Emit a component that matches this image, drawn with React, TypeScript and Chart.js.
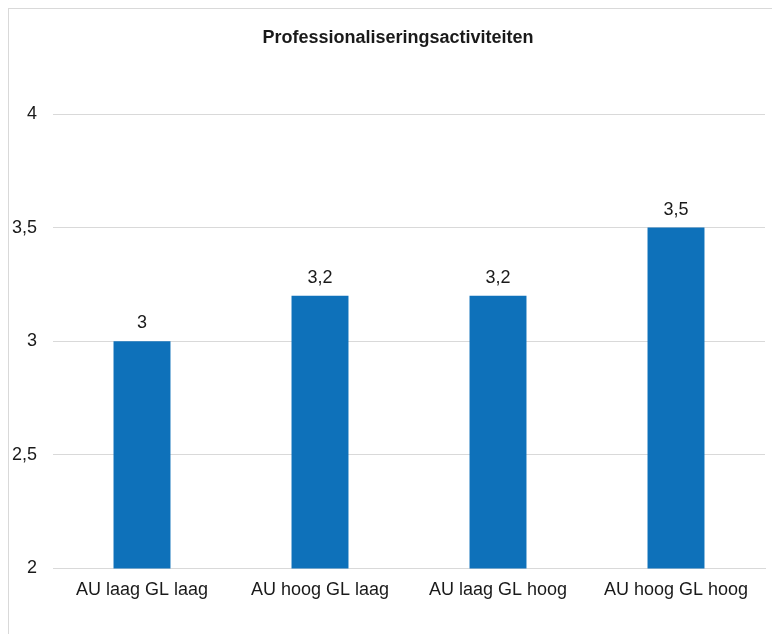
import React, { useEffect, useRef } from "react";
import { Chart, registerables } from "chart.js";

Chart.register(...registerables);

const chartTitle = "Professionaliseringsactiviteiten";
const categories = ["AU laag GL laag", "AU hoog GL laag", "AU laag GL hoog", "AU hoog GL hoog"];
const values = [3, 3.2, 3.2, 3.5];
const yMin = 2;
const yMax = 4;
const yStep = 0.5;

const FONT = "'Liberation Sans', Arial, Helvetica, sans-serif";
const TEXT = "#1a1a1a";
const GRID = "#d9d9d9";
const BAR = "#0e71ba";

const fmt = (v: number) => String(v).replace(".", ",");

const dataLabels = {
  id: "dataLabels",
  afterDatasetsDraw(chart: any) {
    const ctx = chart.ctx;
    ctx.save();
    ctx.font = `18px ${FONT}`;
    ctx.fillStyle = TEXT;
    ctx.textAlign = "center";
    ctx.textBaseline = "middle";
    chart.data.datasets.forEach((ds: any, di: number) => {
      const meta = chart.getDatasetMeta(di);
      meta.data.forEach((el: any, i: number) => {
        ctx.fillText(fmt(ds.data[i]), el.x, el.y - 18);
      });
    });
    ctx.restore();
  },
};

const centeredTitle = {
  id: "centeredTitle",
  afterDraw(chart: any) {
    const ctx = chart.ctx;
    ctx.save();
    ctx.font = `bold 18px ${FONT}`;
    ctx.fillStyle = TEXT;
    ctx.textAlign = "center";
    ctx.textBaseline = "middle";
    ctx.fillText(chartTitle, chart.width / 2 - 1, 29.5);
    ctx.restore();
  },
};

export default function App() {
  const ref = useRef<HTMLCanvasElement>(null);
  useEffect(() => {
    if (!ref.current) return;
    const chart = new Chart(ref.current, {
      type: "bar",
      data: {
        labels: categories,
        datasets: [
          {
            data: values,
            backgroundColor: BAR,
            borderWidth: 0,
            categoryPercentage: 1,
            barPercentage: 0.32,
          },
        ],
      },
      options: {
        responsive: false,
        animation: false,
        devicePixelRatio: 1,
        layout: { padding: { left: 2, right: 24, top: 105, bottom: 37 } },
        plugins: {
          legend: { display: false },
          tooltip: { enabled: false },
          title: { display: false },
        },
        scales: {
          x: {
            grid: { display: false, drawTicks: false },
            border: { display: true, color: GRID, width: 1 },
            ticks: {
              color: TEXT,
              font: { family: FONT, size: 18 },
              padding: 11,
              maxRotation: 0,
            },
          },
          y: {
            min: yMin,
            max: yMax,
            afterFit(scale: any) {
              scale.width = 42;
            },
            grid: { color: GRID, lineWidth: 1, drawTicks: false },
            border: { display: false },
            ticks: {
              stepSize: yStep,
              color: TEXT,
              font: { family: FONT, size: 18 },
              padding: 16,
              callback: (v: any) => fmt(Number(v)),
            },
          },
        },
      },
      plugins: [dataLabels, centeredTitle],
    } as any);
    return () => chart.destroy();
  }, []);

  return (
    <div style={{ width: 772, height: 626, overflow: "hidden" }}>
      <div
        style={{
          width: 820,
          height: 660,
          borderTop: `1px solid ${GRID}`,
          borderLeft: `1px solid ${GRID}`,
          background: "#fff",
        }}
      >
        <canvas ref={ref} width={780} height={640} style={{ display: "block" }} />
      </div>
    </div>
  );
}
